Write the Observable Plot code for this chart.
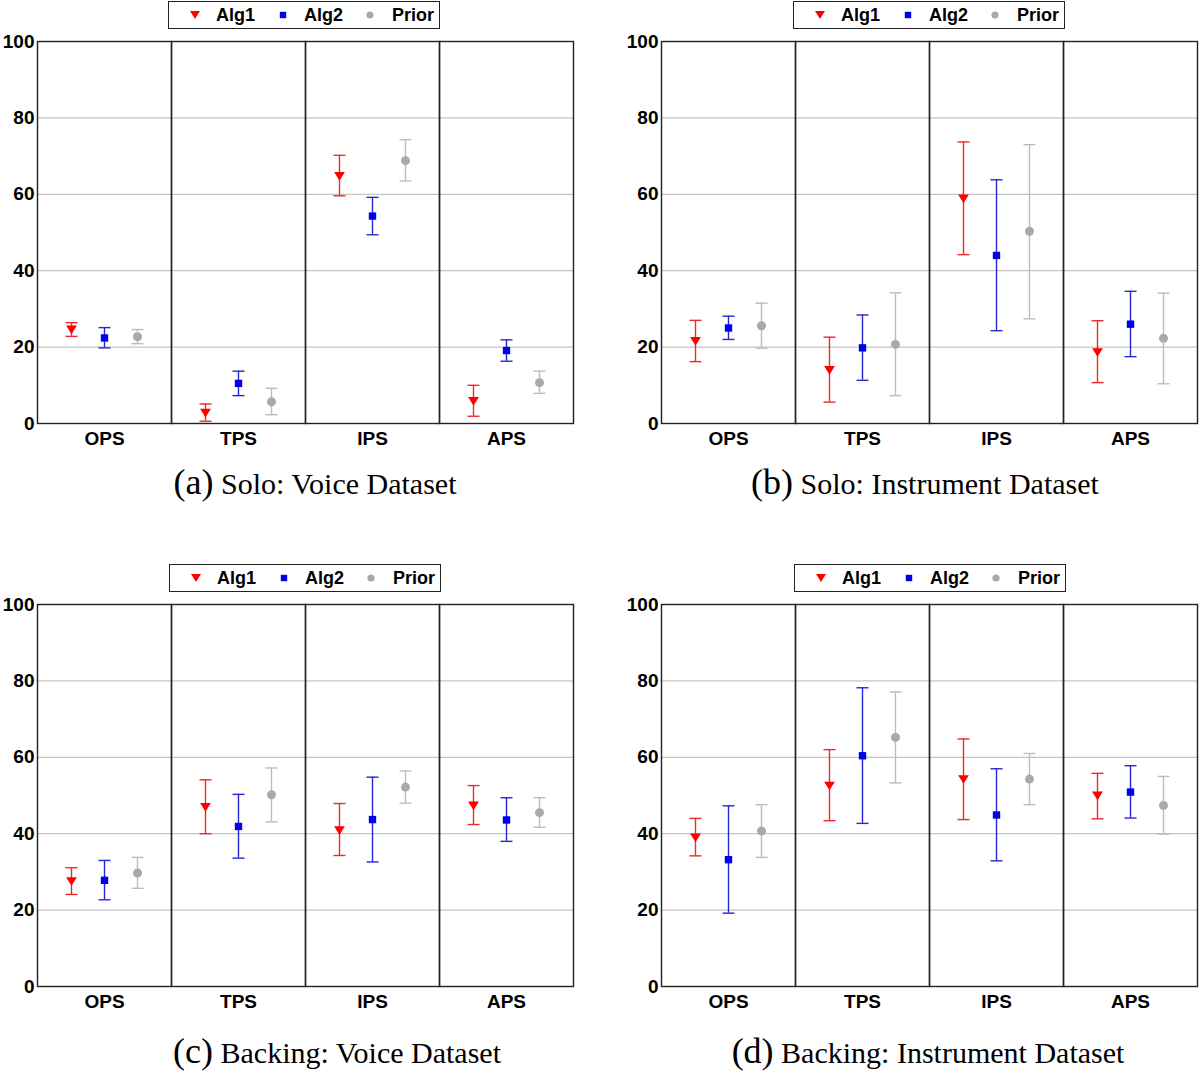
<!DOCTYPE html>
<html><head><meta charset="utf-8">
<script src="https://cdn.jsdelivr.net/npm/d3@7"></script>
<script src="https://cdn.jsdelivr.net/npm/@observablehq/plot@0.6"></script>
<style>
body{margin:0;background:#fff;width:1200px;height:1073px;position:relative;overflow:hidden;font-family:"Liberation Sans",Arial,sans-serif;}
.panel{position:absolute;}
.panel svg{overflow:visible;}
.legend{position:absolute;border:1.5px solid #222;box-sizing:border-box;height:28px;width:272px;font-weight:bold;font-size:18px;background:#fff;}
.legend .sym{position:absolute;top:7px;line-height:0;}
.legend .lab{position:absolute;top:3px;line-height:20px;color:#000;}
#captions{position:absolute;left:0;top:0;}
</style></head><body>
<script>
// ----- data -----
const categories = ["OPS", "TPS", "IPS", "APS"];
const series = ["Alg1", "Alg2", "Prior"];
const yTicks = [0, 20, 40, 60, 80, 100];
const gridValues = [20, 40, 60, 80];

// each entry: [mean, low, high] for OPS, TPS, IPS, APS
const soloVoiceAlg1  = [[24.5, 22.8, 26.4], [2.7, 0.6, 5.1], [64.7, 59.6, 70.2], [5.8, 1.9, 10.0]];
const soloVoiceAlg2  = [[22.4, 19.8, 25.1], [10.5, 7.3, 13.7], [54.3, 49.4, 59.2], [19.1, 16.3, 21.9]];
const soloVoicePrior = [[22.7, 20.9, 24.6], [5.7, 2.3, 9.2], [68.8, 63.5, 74.3], [10.7, 7.9, 13.7]];

const soloInstAlg1  = [[21.5, 16.2, 27.0], [13.9, 5.6, 22.6], [58.8, 44.2, 73.7], [18.6, 10.7, 26.9]];
const soloInstAlg2  = [[25.0, 22.0, 28.1], [19.8, 11.3, 28.4], [44.0, 24.3, 63.8], [26.0, 17.5, 34.6]];
const soloInstPrior = [[25.6, 19.7, 31.5], [20.7, 7.3, 34.2], [50.3, 27.4, 73.0], [22.3, 10.4, 34.1]];

const backVoiceAlg1  = [[27.5, 24.1, 31.1], [46.9, 40.0, 54.1], [40.8, 34.3, 47.9], [47.3, 42.4, 52.6]];
const backVoiceAlg2  = [[27.8, 22.7, 33.0], [41.9, 33.6, 50.3], [43.7, 32.6, 54.8], [43.6, 38.0, 49.4]];
const backVoicePrior = [[29.7, 25.7, 33.8], [50.2, 43.1, 57.2], [52.2, 48.0, 56.4], [45.5, 41.7, 49.4]];

const backInstAlg1  = [[38.9, 34.2, 44.0], [52.5, 43.4, 62.0], [54.2, 43.7, 64.8], [49.9, 43.9, 55.8]];
const backInstAlg2  = [[33.2, 19.2, 47.3], [60.4, 42.7, 78.2], [44.9, 32.9, 57.0], [50.9, 44.1, 57.8]];
const backInstPrior = [[40.7, 33.8, 47.6], [65.2, 53.3, 77.1], [54.3, 47.6, 61.0], [47.4, 39.9, 55.0]];

const captionLabels = ["(a)", "(b)", "(c)", "(d)"];
const captionTexts = ["Solo: Voice Dataset", "Solo: Instrument Dataset", "Backing: Voice Dataset", "Backing: Instrument Dataset"];

// ----- styles -----
const markerColor = {Alg1: "#ff0000", Alg2: "#0000ee", Prior: "#a9a9a9"};
const barColor = {Alg1: "#ee2a2a", Alg2: "#2626d4", Prior: "#bcbcbc"};

const symCap = {draw(ctx, size) { const r = Math.sqrt(size / Math.PI); ctx.moveTo(-r, 0); ctx.lineTo(r, 0); }};
const symTriDown = {draw(ctx, size) { const r = Math.sqrt(size / Math.PI); ctx.moveTo(-r, -r * 0.8); ctx.lineTo(r, -r * 0.8); ctx.lineTo(0, r * 0.8); ctx.closePath(); }};
const symSquare = {draw(ctx, size) { const r = Math.sqrt(size / Math.PI); ctx.rect(-r, -r, 2 * r, 2 * r); }};
const markerSymbol = {Alg1: symTriDown, Alg2: symSquare, Prior: "circle"};
const markerR = {Alg1: 5.4, Alg2: 3.7, Prior: 4.5};

function rowsFor(sets) {
  const rows = [];
  sets.forEach((arr, s) => arr.forEach(([m, lo, hi], c) => rows.push({cat: categories[c], series: series[s], m, lo, hi})));
  return rows;
}

function makePlot(sets) {
  const rows = rowsFor(sets);
  const marks = [
    Plot.ruleY(gridValues, {stroke: "#c4c4c4", strokeWidth: 1.3}),
    Plot.frame({stroke: "#222", strokeWidth: 1.4})
  ];
  for (const s of series) {
    const d = rows.filter(r => r.series === s);
    marks.push(Plot.ruleX(d, {fx: "cat", x: "series", y1: "lo", y2: "hi", stroke: barColor[s], strokeWidth: 1.4}));
    marks.push(Plot.dot(d, {fx: "cat", x: "series", y: "lo", symbol: symCap, r: 6, stroke: barColor[s], strokeWidth: 1.4, fill: "none"}));
    marks.push(Plot.dot(d, {fx: "cat", x: "series", y: "hi", symbol: symCap, r: 6, stroke: barColor[s], strokeWidth: 1.4, fill: "none"}));
    marks.push(Plot.dot(d, {fx: "cat", x: "series", y: "m", symbol: markerSymbol[s], r: markerR[s], fill: markerColor[s], stroke: "none"}));
  }
  return Plot.plot({
    width: 576, height: 420,
    marginLeft: 36, marginRight: 2, marginTop: 8, marginBottom: 30,
    style: {fontFamily: "'Liberation Sans', Arial, sans-serif", fontSize: "19px", fontWeight: "bold", color: "#000", background: "transparent", overflow: "visible"},
    fx: {domain: categories, padding: 0, axis: "bottom", tickSize: 0, tickPadding: 8, label: null},
    x: {domain: series, type: "point", padding: 1, axis: null},
    y: {domain: [0, 100], ticks: yTicks, tickSize: 0, tickPadding: 3, label: null},
    marks
  });
}

const panels = [
  {sets: [soloVoiceAlg1, soloVoiceAlg2, soloVoicePrior], left: 0, top: 33, legendLeft: 168, legendTop: 1, capX: 315, capY: 494},
  {sets: [soloInstAlg1, soloInstAlg2, soloInstPrior], left: 624, top: 33, legendLeft: 793, legendTop: 1, capX: 925, capY: 494},
  {sets: [backVoiceAlg1, backVoiceAlg2, backVoicePrior], left: 0, top: 596, legendLeft: 169, legendTop: 564, capX: 337, capY: 1063},
  {sets: [backInstAlg1, backInstAlg2, backInstPrior], left: 624, top: 596, legendLeft: 794, legendTop: 564, capX: 928, capY: 1063}
];

const legendSymSvg = {
  Alg1: '<svg width="12" height="12" viewBox="-6 -6 12 12"><path d="M-5,-4L5,-4L0,4Z" fill="#ff0000"/></svg>',
  Alg2: '<svg width="12" height="12" viewBox="-6 -6 12 12"><rect x="-3.2" y="-3.2" width="6.4" height="6.4" fill="#0000ee"/></svg>',
  Prior: '<svg width="12" height="12" viewBox="-6 -6 12 12"><circle r="3.6" fill="#a9a9a9"/></svg>'
};
const legendSymX = [20, 108, 195];
const legendLabX = [47, 135, 223];

panels.forEach((p, i) => {
  const div = document.createElement("div");
  div.className = "panel";
  div.style.left = p.left + "px";
  div.style.top = p.top + "px";
  div.appendChild(makePlot(p.sets));
  document.body.appendChild(div);

  const lg = document.createElement("div");
  lg.className = "legend";
  lg.style.left = p.legendLeft + "px";
  lg.style.top = p.legendTop + "px";
  series.forEach((s, k) => {
    const sym = document.createElement("span");
    sym.className = "sym";
    sym.style.left = legendSymX[k] + "px";
    sym.innerHTML = legendSymSvg[s];
    lg.appendChild(sym);
    const lab = document.createElement("span");
    lab.className = "lab";
    lab.style.left = legendLabX[k] + "px";
    lab.textContent = s;
    lg.appendChild(lab);
  });
  document.body.appendChild(lg);
});

// captions
const NS = "http://www.w3.org/2000/svg";
const cap = document.createElementNS(NS, "svg");
cap.setAttribute("id", "captions");
cap.setAttribute("width", 1200);
cap.setAttribute("height", 1073);
panels.forEach((p, i) => {
  const t = document.createElementNS(NS, "text");
  t.setAttribute("x", p.capX);
  t.setAttribute("y", p.capY);
  t.setAttribute("text-anchor", "middle");
  t.setAttribute("font-family", "'Liberation Serif', 'Times New Roman', serif");
  t.setAttribute("fill", "#000");
  const a = document.createElementNS(NS, "tspan");
  a.setAttribute("font-size", 36);
  a.textContent = captionLabels[i];
  const b = document.createElementNS(NS, "tspan");
  b.setAttribute("font-size", 30);
  b.textContent = " " + captionTexts[i];
  t.appendChild(a); t.appendChild(b);
  cap.appendChild(t);
});
cap.style.pointerEvents = "none";
document.body.appendChild(cap);
</script>
</body></html>
